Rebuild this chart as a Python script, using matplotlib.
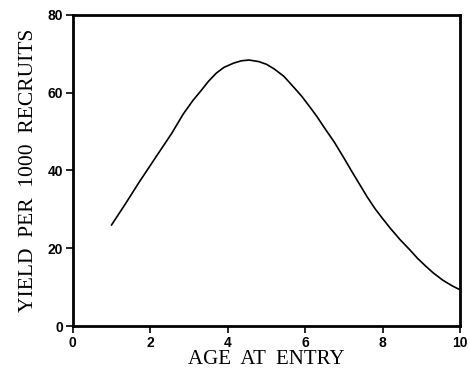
import matplotlib
matplotlib.use('Agg')
import matplotlib.pyplot as plt

# values
age = [1.0, 1.35, 1.7, 2.1, 2.55, 2.85, 3.1, 3.3, 3.5, 3.7, 3.9, 4.15, 4.35, 4.55,
       4.8, 5.0, 5.2, 5.45, 5.65, 5.9, 6.1, 6.3, 6.5, 6.75, 7.0, 7.2, 7.4, 7.6,
       7.8, 8.0, 8.2, 8.45, 8.7, 8.9, 9.1, 9.3, 9.55, 9.8, 10.0]
yld = [26.0, 31.3, 36.8, 42.8, 49.5, 54.5, 58.0, 60.4, 62.9, 65.0, 66.5, 67.6, 68.2, 68.4,
       68.0, 67.3, 66.1, 64.2, 62.0, 59.2, 56.6, 53.9, 50.9, 47.3, 43.2, 39.8, 36.5, 33.2,
       30.2, 27.6, 25.1, 22.2, 19.6, 17.4, 15.5, 13.7, 11.8, 10.3, 9.3]

xticks = [0, 2, 4, 6, 8, 10]
yticks = [0, 20, 40, 60, 80]

fig = plt.figure(figsize=(4.7, 3.73), dpi=100)
ax = fig.add_axes([0.155, 0.126, 0.824, 0.834])

ax.plot(age, yld, color='black', linewidth=1.2)

ax.set_xlim(0, 10)
ax.set_ylim(0, 80)
ax.set_xticks(xticks)
ax.set_yticks(yticks)

for s in ax.spines.values():
    s.set_linewidth(2.0)

ax.tick_params(direction='out', length=5, width=1.2, pad=2)
for lab in ax.get_xticklabels() + ax.get_yticklabels():
    lab.set_fontfamily('Liberation Sans')
    lab.set_fontweight('bold')
    lab.set_fontsize(10)

ax.set_xlabel('AGE  AT  ENTRY', fontfamily='Liberation Serif', fontsize=15, labelpad=0)
ax.set_ylabel('YIELD  PER  1000  RECRUITS', fontfamily='Liberation Serif', fontsize=15.5, labelpad=7)

fig.savefig('out.png', dpi=100)
